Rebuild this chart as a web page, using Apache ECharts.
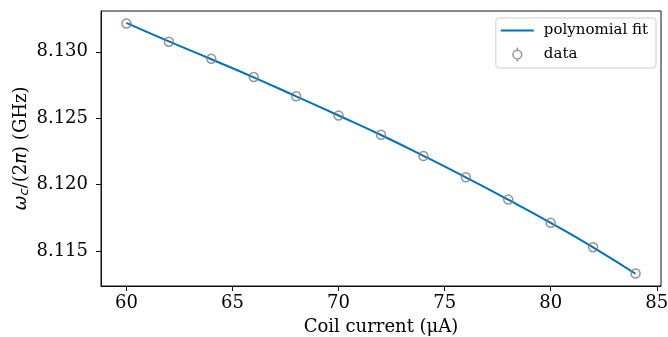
<!DOCTYPE html>
<html>
<head>
<meta charset="utf-8">
<script src="https://cdn.jsdelivr.net/npm/echarts@6/dist/echarts.min.js"></script>
<style>
  html, body { margin: 0; padding: 0; background: #fff; }
  #chart { width: 668px; height: 337px; }
</style>
</head>
<body>
<div id="chart"></div>
<script>
// coil current (uA)
const currents = [60, 62, 64, 66, 68, 70, 72, 74, 76, 78, 80, 82, 84];
// measured cavity frequency (GHz)
const freqData = [8.13213, 8.13076, 8.12947, 8.12810, 8.12665, 8.12520, 8.12376,
  8.12216, 8.12056, 8.11888, 8.11713, 8.11530, 8.11332];
// polynomial fit evaluated at the same currents
const freqFit = [8.13218, 8.13078, 8.12944, 8.12808, 8.12665, 8.12521, 8.12374,
  8.12217, 8.12055, 8.11887, 8.11713, 8.11529, 8.11330];
const xTicks = [60, 65, 70, 75, 80, 85];
const yTicks = [8.115, 8.120, 8.125, 8.130];

const font = "'DejaVu Serif', serif";
const mathFont = "'DejaVu Sans', sans-serif";
const chart = echarts.init(document.getElementById("chart"));

chart.setOption({
  animation: false,
  textStyle: { fontFamily: font },
  grid: {
    left: 101, right: 7, top: 11, bottom: 51,
    outerBoundsMode: "none",
    containLabel: false,
    show: true, borderColor: "#111", borderWidth: 1,
  },
  legend: {
    right: 12, top: 18,
    orient: "vertical",
    itemWidth: 33, itemHeight: 14, itemGap: 7,
    padding: [5, 8, 4, 5],
    borderColor: "#ccc", borderWidth: 1, borderRadius: 3,
    textStyle: { fontFamily: font, fontSize: 15, color: "#000", padding: [0, 0, 0, 5] },
    data: [
      {
        name: "polynomial fit",
        icon: "path://M0,0L33,0L33,2L0,2Z",
        itemStyle: { color: "#0072BD", borderWidth: 0 },
      },
      {
        name: "data",
        icon: "path://M5,0L5,3M5,13L5,16M5,3A5,5 0 1,1 5,13A5,5 0 1,1 5,3Z",
        itemStyle: { color: "none", borderColor: "#7a7a7a", borderWidth: 1.5 },
      },
    ],
  },
  xAxis: {
    type: "value",
    min: 58.8, max: 85.2,
    name: "Coil current (\u03bcA)",
    nameLocation: "middle",
    nameGap: 32,
    nameMoveOverlap: false,
    nameTextStyle: { fontFamily: font, fontSize: 18, color: "#000" },
    splitLine: { show: false },
    axisLine: { show: true, onZero: false, lineStyle: { color: "#111" } },
    axisTick: { show: true, length: 5, customValues: xTicks, lineStyle: { color: "#111" } },
    axisLabel: {
      customValues: xTicks, margin: 8,
      fontFamily: font, fontSize: 18, color: "#000",
    },
  },
  yAxis: {
    type: "value",
    min: 8.11238, max: 8.13307,
    name: "{i|\u03c9}{s|c}/(2{i|\u03c0}) (GHz)",
    nameLocation: "middle",
    nameRotate: 90,
    nameGap: 70,
    nameMoveOverlap: false,
    nameTextStyle: {
      fontFamily: font, fontSize: 18, color: "#000",
      rich: {
        i: { fontFamily: mathFont, fontStyle: "italic", fontSize: 18, color: "#000" },
        s: { fontFamily: mathFont, fontStyle: "italic", fontSize: 13, color: "#000", verticalAlign: "bottom", padding: [7, 0, 0, 0] },
      },
    },
    splitLine: { show: false },
    axisLine: { show: true, onZero: false, lineStyle: { color: "#111" } },
    axisTick: { show: true, length: 5, customValues: yTicks, lineStyle: { color: "#111" } },
    axisLabel: {
      customValues: yTicks, margin: 13,
      fontFamily: font, fontSize: 18, color: "#000",
      formatter: (v) => v.toFixed(3),
    },
  },
  series: [
    {
      name: "polynomial fit",
      type: "line",
      data: currents.map((c, i) => [c, freqFit[i]]),
      symbol: "none",
      smooth: true,
      lineStyle: { color: "#0072BD", width: 2 },
      itemStyle: { color: "#0072BD" },
      z: 3,
    },
    {
      name: "data",
      type: "scatter",
      data: currents.map((c, i) => [c, freqData[i]]),
      symbol: "circle",
      symbolSize: 9,
      itemStyle: { color: "rgba(0,0,0,0)", borderColor: "#7a7a7a", borderWidth: 1.5 },
      z: 4,
    },
  ],
});
</script>
</body>
</html>
